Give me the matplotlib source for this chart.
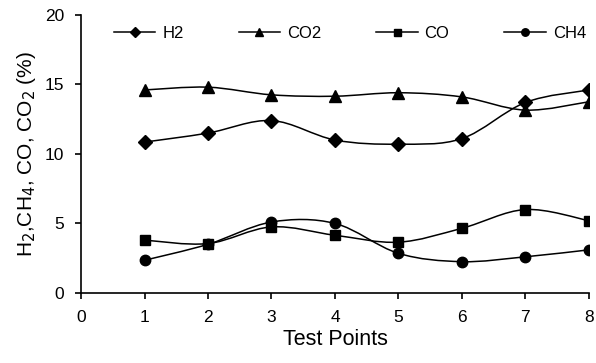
import matplotlib.pyplot as plt
import numpy as np
from matplotlib.path import Path
from matplotlib.patches import PathPatch
from matplotlib.lines import Line2D

plt.rcParams['font.family'] = ['Liberation Sans', 'DejaVu Sans']

test_points = [1, 2, 3, 4, 5, 6, 7, 8]
h2 = [10.85, 11.5, 12.4, 11.0, 10.7, 11.1, 13.7, 14.6]
co2 = [14.6, 14.8, 14.25, 14.15, 14.4, 14.1, 13.15, 13.75]
co = [3.8, 3.55, 4.75, 4.15, 3.65, 4.65, 6.0, 5.2]
ch4 = [2.35, 3.5, 5.1, 5.0, 2.85, 2.25, 2.6, 3.1]

series = [('H2', h2, 'D', 7), ('CO2', co2, '^', 8), ('CO', co, 's', 7), ('CH4', ch4, 'o', 7.5)]


def smooth_path(x, y):
    # bezier segments like a spreadsheet "smoothed line"
    x = np.asarray(x, float)
    y = np.asarray(y, float)
    n = len(x)
    verts = [(x[0], y[0])]
    codes = [Path.MOVETO]
    for i in range(n - 1):
        p0 = i - 1 if i > 0 else i
        p3 = i + 2 if i + 2 < n else i + 1
        c1 = (x[i] + (x[i + 1] - x[p0]) / 6, y[i] + (y[i + 1] - y[p0]) / 6)
        c2 = (x[i + 1] - (x[p3] - x[i]) / 6, y[i + 1] - (y[p3] - y[i]) / 6)
        verts += [c1, c2, (x[i + 1], y[i + 1])]
        codes += [Path.CURVE4] * 3
    return Path(verts, codes)


fig = plt.figure(figsize=(5.96, 3.63), dpi=100)
ax = fig.add_axes([0.136, 0.193, 0.852, 0.766])

handles = []
for name, vals, mk, ms in series:
    ax.add_patch(PathPatch(smooth_path(test_points, vals), facecolor='none',
                           edgecolor='black', lw=1.1, transform=ax.transData))
    ax.plot(test_points, vals, linestyle='none', marker=mk, ms=ms, color='black')
    handles.append(Line2D([], [], color='black', lw=1.1, marker=mk, ms=ms * 0.72, label=name))

ax.set_xlim(0, 8)
ax.set_ylim(0, 20)
ax.set_xticks(range(0, 9))
ax.set_yticks([0, 5, 10, 15, 20])
ax.spines['top'].set_visible(False)
ax.spines['right'].set_visible(False)
ax.spines['left'].set_linewidth(1.2)
ax.spines['bottom'].set_linewidth(1.2)
ax.tick_params(direction='out', length=4, width=1.2, labelsize=12.5, pad=8)
ax.set_xlabel('Test Points', fontsize=15.5, labelpad=3)
ax.set_ylabel('H$_2$,CH$_4$, CO, CO$_2$ (%)', fontsize=15, labelpad=5)

ax.legend(handles=handles, ncol=4, loc='upper left', bbox_to_anchor=(0.035, 1.015),
          frameon=False, fontsize=12, handlelength=2.5, columnspacing=3.3,
          handletextpad=0.4, numpoints=1)

fig.savefig('out.png', dpi=100)
